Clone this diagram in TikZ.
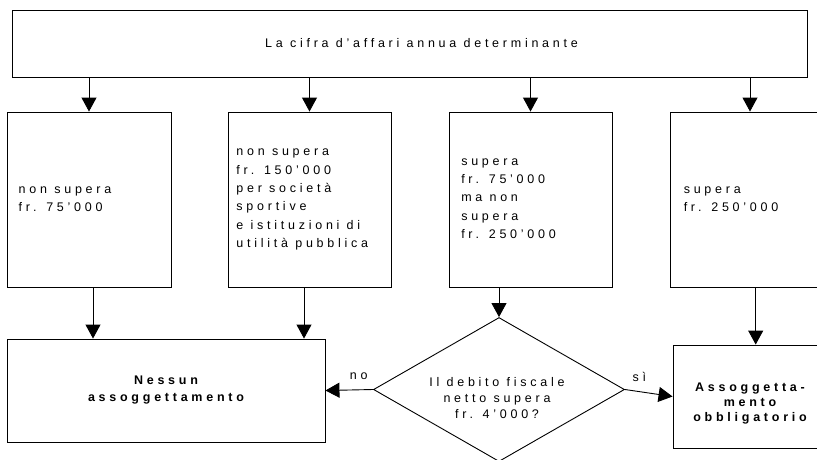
\documentclass[tikz,border=0pt]{standalone}
\usepackage{fontspec}
\setmainfont{Liberation Sans}[LetterSpace=30]
\usetikzlibrary{shapes.geometric,arrows.meta}
\newcommand{\qs}{\symbol{"27}}
\begin{document}
\begin{tikzpicture}[x=1pt,y=-1pt,
  box/.style={draw, line width=0.9pt, rectangle, inner sep=0pt},
  arr/.style={line width=0.9pt, -{Triangle[length=14pt,width=15pt]}},
  txt/.style={font=\fontsize{12.5pt}{18.3pt}\selectfont, align=left, inner sep=0pt, anchor=west},
  btxt/.style={font=\bfseries\fontsize{12.5pt}{17pt}\selectfont, align=center, inner sep=0pt},
  lbl/.style={font=\fontsize{12.5pt}{14pt}\selectfont, inner sep=0pt},
]
\useasboundingbox (0,0) rectangle (817,459);
\clip (0,0) rectangle (817,459);
\fill[white] (0,0) rectangle (817,459);

\node[box, minimum width=795pt, minimum height=67pt] (top) at (409.5,43.5) {};
\node[lbl] (toptxt) at ([xshift=12pt]top.center) {La cifra d\qs affari annua determinante};

\node[box, minimum width=164pt, minimum height=175pt] (b1) at (89,199.5) {};
\node[box, minimum width=163pt, minimum height=175pt] (b2) at (309.5,199.5) {};
\node[box, minimum width=163pt, minimum height=175pt] (b3) at (530.5,199.5) {};
\node[box, minimum width=160pt, minimum height=175pt] (b4) at (750,199.5) {};

\node[txt] (t1) at ([xshift=12pt]b1.west) {non supera\\fr. 75\qs 000};
\node[txt] (t2) at ([xshift=8.7pt]b2.west) {non supera\\fr. 150\qs 000\\per società\\sportive\\e istituzioni di\\utilità pubblica};
\node[txt] (t3) at ([xshift=12.5pt,yshift=1pt]b3.west) {supera\\fr. 75\qs 000\\ma non\\supera\\fr. 250\qs 000};
\node[txt] (t4) at ([xshift=14pt]b4.west) {supera\\fr. 250\qs 000};

\node[box, minimum width=318pt, minimum height=103pt] (nes) at (166,390.5) {};
\node[btxt] (nestxt) at (nes.center) {Nessun\\assoggettamento};

\node[diamond, draw, line width=0.9pt, minimum width=251pt, minimum height=144pt, inner sep=0pt, aspect=1.74] (dia) at (499,389.5) {};
\node[btxt, font=\fontsize{12.5pt}{16pt}\selectfont] (diatxt) at ([yshift=-8.5pt,xshift=-2pt]dia.center) {Il debito fiscale\\netto supera\\fr. 4\qs 000?};

\node[box, minimum width=154pt, minimum height=103pt] (asg) at (750,396.5) {};
\node[btxt, font=\bfseries\fontsize{12.5pt}{15pt}\selectfont] (asgtxt) at ([yshift=-7.5pt]asg.center) {Assoggetta-\\mento\\obbligatorio};

\draw[arr] (top.south -| b1.north) -- (b1.north);
\draw[arr] (top.south -| b2.north) -- (b2.north);
\draw[arr] (top.south -| b3.north) -- (b3.north);
\draw[arr] (top.south -| b4.north) -- (b4.north);

\draw[arr] ([xshift=4pt]b1.south) -- ([xshift=4pt]b1.south |- nes.north);
\draw[arr] ([xshift=-5.5pt]b2.south) -- ([xshift=-5.5pt]b2.south |- nes.north);
\draw[arr] (b3.south -| dia.north) -- (dia.north);
\draw[arr] ([xshift=5.7pt]b4.south) -- ([xshift=5.7pt]b4.south |- asg.north);

\draw[arr] (dia.west) -- node[lbl, pos=0.3, above=10pt] (no) {no} (nes.east);
\draw[arr] (dia.east) -- node[lbl, pos=0.3, above=10pt] (si) {sì} (asg.west);
\end{tikzpicture}
\end{document}
